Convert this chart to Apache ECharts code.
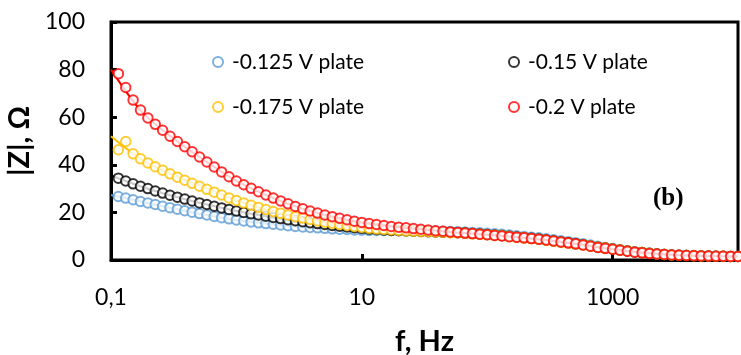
<!DOCTYPE html>
<html>
<head>
<meta charset="utf-8">
<script src="https://cdn.jsdelivr.net/npm/echarts@6/dist/echarts.min.js"></script>
<style>
  html, body { margin: 0; padding: 0; background: #ffffff; }
  #chart { width: 741px; height: 355px; }
</style>
</head>
<body>
<div id="chart"></div>
<script>
// Measured frequencies (Hz), ~17 points per decade
const freqHz = [
  0.1145, 0.1311, 0.1501, 0.1719, 0.1968, 0.2254, 0.2581, 0.2955, 0.3384, 0.3875, 0.4437, 0.508, 0.5817, 0.666, 0.7626, 0.8733,
  1, 1.145, 1.311, 1.501, 1.719, 1.968, 2.254, 2.581, 2.955, 3.384, 3.875, 4.437, 5.08, 5.817, 6.66, 7.626, 8.733,
  10, 11.45, 13.11, 15.01, 17.19, 19.68, 22.54, 25.81, 29.55, 33.84, 38.75, 44.37, 50.8, 58.17, 66.6, 76.26, 87.33,
  100, 114.5, 131.1, 150.1, 171.9, 196.8, 225.4, 258.1, 295.5, 338.4, 387.5, 443.7, 508, 581.7, 666, 762.6, 873.3,
  1000, 1145, 1311, 1501, 1719, 1968, 2254, 2581, 2955, 3384, 3875, 4437, 5080, 5817, 6660, 7626, 8733,
  10000
];

// |Z| (Ohm) measured for each plating potential
const zPlate0125 = [
  26.7, 26.0, 25.3, 24.6, 24.0, 23.3, 22.6, 22.0, 21.3, 20.7, 20.1, 19.5, 18.9, 18.3, 17.8, 17.3,
  16.8, 16.4, 16.0, 15.6, 15.3, 15.0, 14.7, 14.4, 14.1, 13.9, 13.7, 13.5, 13.3, 13.1, 12.9, 12.8, 12.6,
  12.5, 12.4, 12.4, 12.4, 12.4, 12.4, 12.4, 12.4, 12.3, 12.3, 12.2, 12.1, 12.0, 11.9, 11.8, 11.6, 11.4,
  11.2, 11.0, 10.8, 10.5, 10.2, 9.9, 9.6, 9.3, 8.9, 8.5, 8.1, 7.7, 7.3, 6.8, 6.3, 5.8, 5.3,
  4.8, 4.3, 3.9, 3.5, 3.1, 2.8, 2.6, 2.4, 2.2, 2.1, 2.0, 1.9, 1.8, 1.7, 1.7, 1.6, 1.6,
  1.5
];
const zPlate015 = [
  34.4, 33.2, 32.0, 31.0, 30.0, 29.0, 28.1, 27.2, 26.4, 25.6, 24.8, 24.0, 23.3, 22.6, 21.9, 21.2,
  20.6, 20.0, 19.4, 18.9, 18.4, 17.9, 17.4, 16.9, 16.5, 16.1, 15.7, 15.3, 14.9, 14.5, 14.2, 13.9, 13.6,
  13.3, 13.0, 12.8, 12.6, 12.4, 12.3, 12.2, 12.1, 12.0, 11.9, 11.8, 11.7, 11.6, 11.5, 11.3, 11.1, 10.9,
  10.7, 10.5, 10.3, 10.0, 9.7, 9.4, 9.1, 8.8, 8.4, 8.0, 7.6, 7.2, 6.8, 6.4, 5.9, 5.4, 5.0,
  4.6, 4.2, 3.8, 3.4, 3.1, 2.8, 2.5, 2.3, 2.1, 2.0, 1.9, 1.8, 1.7, 1.7, 1.6, 1.6, 1.5,
  1.5
];
const zPlate0175 = [
  46.3, 49.8, 44.6, 42.5, 40.8, 39.2, 37.7, 36.2, 34.8, 33.5, 32.2, 31.0, 29.7, 28.5, 27.3, 26.1,
  25.0, 24.0, 23.0, 22.1, 21.2, 20.4, 19.6, 18.9, 18.2, 17.6, 17.0, 16.4, 15.9, 15.4, 14.9, 14.5, 14.1,
  13.7, 13.3, 13.0, 12.8, 12.6, 12.4, 12.2, 12.1, 12.0, 11.9, 11.8, 11.7, 11.5, 11.4, 11.2, 11.0, 10.8,
  10.6, 10.4, 10.2, 9.9, 9.6, 9.3, 9.0, 8.7, 8.3, 7.9, 7.5, 7.1, 6.7, 6.3, 5.9, 5.4, 5.0,
  4.6, 4.2, 3.8, 3.4, 3.1, 2.8, 2.5, 2.3, 2.1, 2.0, 1.9, 1.8, 1.7, 1.7, 1.6, 1.6, 1.5,
  1.5
];
const zPlate02 = [
  78.3, 72.5, 67.2, 63.0, 59.7, 57.0, 54.5, 52.0, 49.8, 47.6, 45.5, 43.3, 41.2, 39.1, 37.0, 35.0,
  33.2, 31.6, 30.1, 28.7, 27.3, 26.0, 24.8, 23.6, 22.5, 21.5, 20.6, 19.7, 18.9, 18.2, 17.5, 16.9, 16.3,
  15.8, 15.3, 14.9, 14.5, 14.1, 13.8, 13.5, 13.2, 12.9, 12.6, 12.3, 12.1, 11.8, 11.6, 11.3, 11.1, 10.8,
  10.6, 10.3, 10.1, 9.8, 9.6, 9.3, 9.0, 8.7, 8.4, 8.0, 7.6, 7.2, 6.8, 6.3, 5.8, 5.3, 4.9,
  4.5, 4.1, 3.7, 3.3, 3.0, 2.7, 2.5, 2.3, 2.1, 2.0, 1.9, 1.8, 1.7, 1.7, 1.6, 1.6, 1.5,
  1.5
];

// Equivalent-circuit fit curves, 4 points per decade
const fitFreqHz = [0.1, 0.1778, 0.3162, 0.5623, 1, 1.778, 3.162, 5.623, 10, 17.78, 31.62, 56.23,
  100, 177.8, 316.2, 562.3, 1000, 1778, 3162, 5623, 10000];
const fitPlate0125 = [27.3, 24.5, 21.6, 19.0, 16.8, 15.2, 14.0, 13.1, 12.5, 12.4, 12.2, 11.7,
  11.2, 10.0, 8.5, 6.9, 4.8, 3.2, 2.2, 1.7, 1.5];
const fitPlate015 = [35.5, 30.7, 26.8, 23.5, 20.6, 18.3, 16.3, 14.6, 13.3, 12.4, 11.9, 11.4,
  10.7, 9.6, 8.2, 6.6, 4.6, 3.1, 2.1, 1.7, 1.5];
const fitPlate0175 = [52.0, 42.0, 35.6, 30.5, 25.0, 21.0, 17.9, 15.5, 13.7, 12.5, 11.9, 11.4,
  10.6, 9.5, 8.1, 6.5, 4.6, 3.1, 2.1, 1.7, 1.5];
const fitPlate02 = [80.0, 62.0, 51.0, 41.7, 33.2, 27.0, 22.0, 18.4, 15.8, 14.1, 12.8, 11.6,
  10.6, 9.6, 8.2, 6.5, 4.5, 3.0, 2.1, 1.7, 1.5];

const seriesNames = ['-0.125 V plate', '-0.15 V plate', '-0.175 V plate', '-0.2 V plate'];
const seriesColors = ['#5B9BD5', '#000000', '#FFC000', '#FF0000'];
const measured = [zPlate0125, zPlate015, zPlate0175, zPlate02];
const fitted = [fitPlate0125, fitPlate015, fitPlate0175, fitPlate02];

const xLabelValues = [0.1, 10, 1000];
const yMin = 0, yMax = 100, yStep = 20;

const FONT = 'Lato, "Open Sans", sans-serif';

const series = [];
measured.forEach((vals, i) => {
  series.push({
    name: seriesNames[i] + ' fit',
    type: 'line',
    data: fitFreqHz.map((f, j) => [f, fitted[i][j]]),
    showSymbol: false,
    smooth: 0.3,
    lineStyle: { color: seriesColors[i], width: 2 },
    silent: true,
    z: 2 + i * 2
  });
  series.push({
    name: seriesNames[i],
    type: 'scatter',
    data: freqHz.map((f, j) => [f, vals[j]]),
    symbol: 'emptyCircle',
    symbolSize: 9.5,
    itemStyle: { color: seriesColors[i], borderColor: seriesColors[i], borderWidth: 2.8 },
    z: 3 + i * 2
  });
});

const legendCommon = {
  orient: 'vertical',
  top: 51,
  padding: 0,
  itemWidth: 10,
  itemHeight: 10,
  itemGap: 23,
  itemStyle: { borderWidth: 2 },
  textStyle: { fontFamily: FONT, fontSize: 21, color: '#000', lineHeight: 22, padding: [0, 0, 0, 4] }
};

const chart = echarts.init(document.getElementById('chart'), null, { renderer: 'canvas' });
chart.setOption({
  animation: false,
  backgroundColor: '#ffffff',
  grid: {
    left: 111, right: 3, top: 22, bottom: 95,
    outerBoundsMode: 'none',
    containLabel: false,
    show: true, borderColor: '#000', borderWidth: 3, backgroundColor: 'transparent'
  },
  legend: [
    Object.assign({ left: 212, data: [seriesNames[0], seriesNames[2]] }, legendCommon),
    Object.assign({ left: 508, data: [seriesNames[1], seriesNames[3]] }, legendCommon)
  ],
  xAxis: {
    type: 'log',
    logBase: 10,
    min: 0.1,
    max: 10000,
    name: 'f, Hz',
    nameLocation: 'middle',
    nameGap: 67,
    nameTextStyle: { fontFamily: FONT, fontSize: 29, fontWeight: 'bold', color: '#000' },
    axisLine: { show: true, lineStyle: { color: '#000', width: 3 } },
    axisTick: { show: true, inside: true, length: 6, lineStyle: { color: '#000', width: 3 }, customValues: xLabelValues },
    axisLabel: {
      fontFamily: FONT, fontSize: 23, color: '#000', margin: 26,
      customValues: xLabelValues,
      formatter: v => String(v).replace('.', ',')
    },
    splitLine: { show: false },
    minorTick: { show: false }
  },
  yAxis: {
    type: 'value',
    min: yMin,
    max: yMax,
    interval: yStep,
    name: '|Z|, Ω',
    nameLocation: 'middle',
    nameRotate: 90,
    nameGap: 67,
    nameTextStyle: { fontFamily: FONT, fontSize: 29, fontWeight: 'bold', color: '#000' },
    axisLine: { show: true, lineStyle: { color: '#000', width: 3 } },
    axisTick: { show: true, inside: true, length: 6, lineStyle: { color: '#000', width: 3 } },
    axisLabel: { fontFamily: FONT, fontSize: 23, color: '#000', margin: 26 },
    splitLine: { show: false }
  },
  graphic: [{
    type: 'text',
    left: 653,
    top: 186,
    style: { text: '(b)', font: 'bold 25px "Liberation Serif", "Times New Roman", serif', fill: '#000' }
  }],
  series: series
});
</script>
</body>
</html>
